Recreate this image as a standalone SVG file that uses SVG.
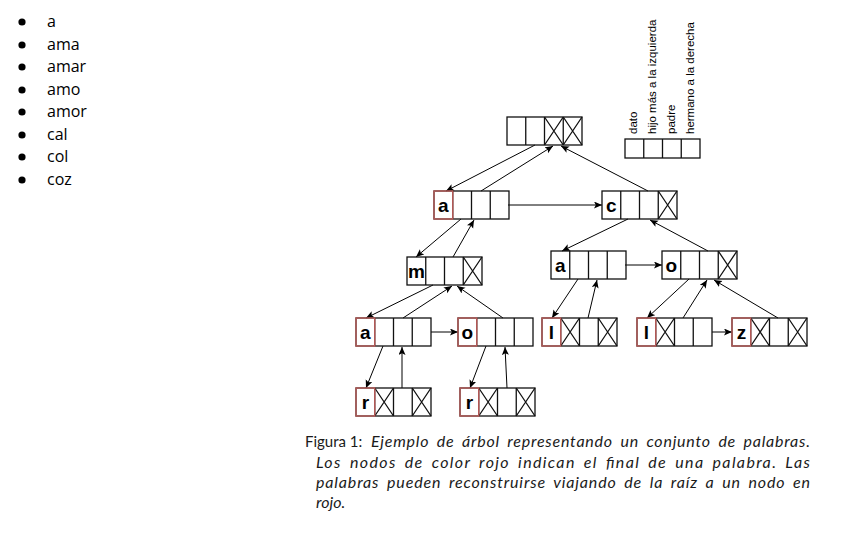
<svg xmlns="http://www.w3.org/2000/svg" xmlns:xlink="http://www.w3.org/1999/xlink" width="850" height="537" viewBox="0 0 850 537">
<style>
.cell{fill:none;stroke:#111;stroke-width:1.3}
.red{fill:none;stroke:#c25e5b;stroke-width:1.3}
.lbl{font-family:"Liberation Sans",Arial,sans-serif;font-weight:bold;font-size:19px;fill:#000;text-anchor:middle}
.list{font-family:"Open Sans","Liberation Sans",sans-serif;font-size:16px;fill:#000}
.leg{font-family:"Liberation Sans",Arial,sans-serif;font-size:11.5px;fill:#000}
.cap{font-family:Lato,"Liberation Sans",sans-serif;font-size:16px;fill:#1a1a1a}
.it{font-style:italic;word-spacing:3px}
.conn line{stroke:#000;stroke-width:1;marker-end:url(#arr)}
</style>
<defs>
<marker id="arr" markerUnits="userSpaceOnUse" markerWidth="9" markerHeight="8" refX="8" refY="3.5" orient="auto">
<path d="M0,0 L8,3.5 L0,7 L1.8,3.5 z" fill="#000"/>
</marker>
<g id="cells"><rect x="0" y="0" width="75" height="28" class="cell"/><path d="M18.75,0V28M37.5,0V28M56.25,0V28" class="cell"/></g>
<path id="cross" d="M0,0L18.75,28M18.75,0L0,28" class="cell"/>
<rect id="redcell" x="0" y="0" width="18.75" height="28" class="red"/>
</defs>
<rect width="850" height="537" fill="#fff"/>

<g id="word-list">
<circle cx="22" cy="22" r="3.6"/><text class="list" x="47" y="27">a</text>
<circle cx="22" cy="45" r="3.6"/><text class="list" x="47" y="50">ama</text>
<circle cx="22" cy="67" r="3.6"/><text class="list" x="47" y="72">amar</text>
<circle cx="22" cy="90" r="3.6"/><text class="list" x="47" y="95">amo</text>
<circle cx="22" cy="112" r="3.6"/><text class="list" x="47" y="117">amor</text>
<circle cx="22" cy="135" r="3.6"/><text class="list" x="47" y="140">cal</text>
<circle cx="22" cy="157" r="3.6"/><text class="list" x="47" y="162">col</text>
<circle cx="22" cy="180" r="3.6"/><text class="list" x="47" y="185">coz</text>
</g>

<g id="legend">
<rect x="625" y="139" width="75" height="19" class="cell"/>
<path d="M643.75,139V158M662.5,139V158M681.25,139V158" class="cell"/>
<text class="leg" transform="translate(637,134) rotate(-90)">dato</text>
<text class="leg" transform="translate(655.5,134) rotate(-90)">hijo más a la izquierda</text>
<text class="leg" transform="translate(674.5,134) rotate(-90)">padre</text>
<text class="leg" transform="translate(693.5,134) rotate(-90)">hermano a la derecha</text>
</g>

<g id="connectors" class="conn">
<line x1="535" y1="145" x2="446" y2="191"/>
<line x1="481" y1="191" x2="553" y2="146"/>
<line x1="648" y1="191" x2="561" y2="146"/>
<line x1="508" y1="205" x2="602" y2="205"/>
<line x1="461" y1="219" x2="416" y2="257"/>
<line x1="453" y1="257" x2="474" y2="220"/>
<line x1="433" y1="285" x2="366" y2="318"/>
<line x1="403" y1="318" x2="452" y2="286"/>
<line x1="503" y1="318" x2="457" y2="286"/>
<line x1="431" y1="332" x2="458" y2="332"/>
<line x1="383" y1="346" x2="366" y2="388"/>
<line x1="402" y1="388" x2="402" y2="347"/>
<line x1="486" y1="346" x2="470" y2="388"/>
<line x1="507" y1="388" x2="505" y2="347"/>
<line x1="628" y1="219" x2="562" y2="251"/>
<line x1="708" y1="251" x2="650" y2="220"/>
<line x1="625" y1="265" x2="662" y2="265"/>
<line x1="578" y1="279" x2="552" y2="318"/>
<line x1="588" y1="318" x2="597" y2="280"/>
<line x1="689" y1="279" x2="647" y2="318"/>
<line x1="683" y1="318" x2="707" y2="280"/>
<line x1="778" y1="318" x2="714" y2="280"/>
<line x1="712" y1="332" x2="732" y2="332"/>
</g>

<g id="node-root" transform="translate(507,117)">
<use xlink:href="#cells"/><use xlink:href="#cross" x="37.5"/><use xlink:href="#cross" x="56.25"/>
</g>
<g id="node-a1" transform="translate(434,191)">
<use xlink:href="#cells"/><use xlink:href="#redcell"/><text class="lbl" x="9.4" y="20.5">a</text>
</g>
<g id="node-c1" transform="translate(602,191)">
<use xlink:href="#cells"/><use xlink:href="#cross" x="56.25"/><text class="lbl" x="9.4" y="20.5">c</text>
</g>
<g id="node-m" transform="translate(407,257)">
<use xlink:href="#cells"/><use xlink:href="#cross" x="56.25"/><text class="lbl" x="9.4" y="20.5">m</text>
</g>
<g id="node-a2" transform="translate(551,251)">
<use xlink:href="#cells"/><text class="lbl" x="9.4" y="20.5">a</text>
</g>
<g id="node-o2" transform="translate(662,251)">
<use xlink:href="#cells"/><use xlink:href="#cross" x="56.25"/><text class="lbl" x="9.4" y="20.5">o</text>
</g>
<g id="node-a3" transform="translate(356,318)">
<use xlink:href="#cells"/><use xlink:href="#redcell"/><text class="lbl" x="9.4" y="20.5">a</text>
</g>
<g id="node-o3" transform="translate(458,318)">
<use xlink:href="#cells"/><use xlink:href="#redcell"/><text class="lbl" x="9.4" y="20.5">o</text>
</g>
<g id="node-l1" transform="translate(542,318)">
<use xlink:href="#cells"/><use xlink:href="#cross" x="18.75"/><use xlink:href="#cross" x="56.25"/><use xlink:href="#redcell"/><text class="lbl" x="9.4" y="20.5">l</text>
</g>
<g id="node-l2" transform="translate(637,318)">
<use xlink:href="#cells"/><use xlink:href="#cross" x="18.75"/><use xlink:href="#redcell"/><text class="lbl" x="9.4" y="20.5">l</text>
</g>
<g id="node-z" transform="translate(732,318)">
<use xlink:href="#cells"/><use xlink:href="#cross" x="18.75"/><use xlink:href="#cross" x="56.25"/><use xlink:href="#redcell"/><text class="lbl" x="9.4" y="20.5">z</text>
</g>
<g id="node-r1" transform="translate(356,388)">
<use xlink:href="#cells"/><use xlink:href="#cross" x="18.75"/><use xlink:href="#cross" x="56.25"/><use xlink:href="#redcell"/><text class="lbl" x="9.4" y="20.5">r</text>
</g>
<g id="node-r2" transform="translate(460,388)">
<use xlink:href="#cells"/><use xlink:href="#cross" x="18.75"/><use xlink:href="#cross" x="56.25"/><use xlink:href="#redcell"/><text class="lbl" x="9.4" y="20.5">r</text>
</g>

<g id="caption">
<text class="cap" x="305" y="447" style="font-size:15px">Figura 1:</text>
<text class="cap it" x="371" y="447" textLength="439" lengthAdjust="spacing">Ejemplo de árbol representando un conjunto de palabras.</text>
<text class="cap it" x="316" y="468" textLength="494" lengthAdjust="spacing">Los nodos de color rojo indican el final de una palabra. Las</text>
<text class="cap it" x="316" y="488" textLength="494" lengthAdjust="spacing">palabras pueden reconstruirse viajando de la raíz a un nodo en</text>
<text class="cap it" x="316" y="508">rojo.</text>
</g>
</svg>
